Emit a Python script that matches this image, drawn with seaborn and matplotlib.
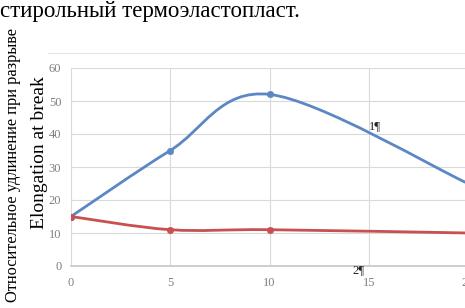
import numpy as np
import matplotlib
matplotlib.use('Agg')
import matplotlib.pyplot as plt
import seaborn as sns
from matplotlib.path import Path
from matplotlib.patches import PathPatch
from matplotlib.lines import Line2D

# ─── Data ─────────────────────────────────────────────────────────────
x_vals = [0, 5, 10, 20]
series_1 = [15, 35, 52, 25]
series_2 = [15, 11, 11, 10]
y_ticks = [0, 10, 20, 30, 40, 50, 60]
x_ticks = [0, 5, 10, 15, 20]

BLUE = '#5B87C4'
RED = '#C8504F'
GRID = '#D9D9D9'
TICK = '#7F7F7F'


def smooth_path(xs, ys):
    """Excel-style smoothed line as cubic Bezier segments."""
    pts = np.column_stack([xs, ys]).astype(float)
    n = len(pts)
    verts = [pts[0]]
    codes = [Path.MOVETO]
    for i in range(n - 1):
        p0 = pts[i - 1] if i > 0 else pts[i]
        p1, p2 = pts[i], pts[i + 1]
        p3 = pts[i + 2] if i + 2 < n else pts[i + 1]
        c1 = p1 + (p2 - p0) / 6
        c2 = p2 - (p3 - p1) / 6
        verts += [c1, c2, p2]
        codes += [Path.CURVE4] * 3
    return Path(verts, codes)


sns.set_theme(style='white')
plt.rcParams['font.family'] = ['Liberation Serif', 'DejaVu Serif']

fig = plt.figure(figsize=(4.65, 3.08), dpi=100)
ax = fig.add_axes([71 / 465, 1 - 266 / 308, 397 / 465, 198 / 308])

for ys, col in [(series_1, BLUE), (series_2, RED)]:
    ax.add_patch(PathPatch(smooth_path(x_vals, ys), facecolor='none',
                           edgecolor=col, lw=2.0, zorder=3))
    sns.scatterplot(x=x_vals, y=ys, color=col, s=22, edgecolor=col,
                    ax=ax, zorder=4, legend=False)

ax.set_xlim(0, 20)
ax.set_ylim(0, 60)
ax.set_xticks(x_ticks)
ax.set_yticks(y_ticks)
ax.grid(True, color=GRID, lw=0.8)
for side in ['top', 'right', 'left']:
    ax.spines[side].set_visible(False)
ax.spines['bottom'].set_color('#C8C8C8')
ax.tick_params(axis='both', labelsize=9, colors=TICK, length=0, pad=8)
ax.tick_params(axis='y', pad=7)

# labels in the document
fig.text(0.0, 1 - 11 / 308, 'стирольный термоэластопласт.', fontsize=16.5,
         color='black', va='center', ha='left')
fig.text(13 / 465, 1 - 165 / 308, 'Относительное удлинение при разрыве',
         rotation=90, fontsize=11.8, va='center', ha='center', color='black')
fig.text(40 / 465, 1 - 153 / 308, 'Elongation at break',
         rotation=90, fontsize=14, va='center', ha='center', color='black')
fig.text(375 / 465, 1 - 126 / 308, '1¶', fontsize=9, va='center',
         ha='center', color='#222222')
fig.text(358 / 465, 1 - 270 / 308, '2¶', fontsize=9, va='center',
         ha='center', color='#222222')
fig.add_artist(Line2D([48 / 465, 1], [1 - 53 / 308] * 2, color='#E6E6E6',
                      lw=0.8, transform=fig.transFigure))

plt.savefig('out.png', dpi=100)
plt.close()
